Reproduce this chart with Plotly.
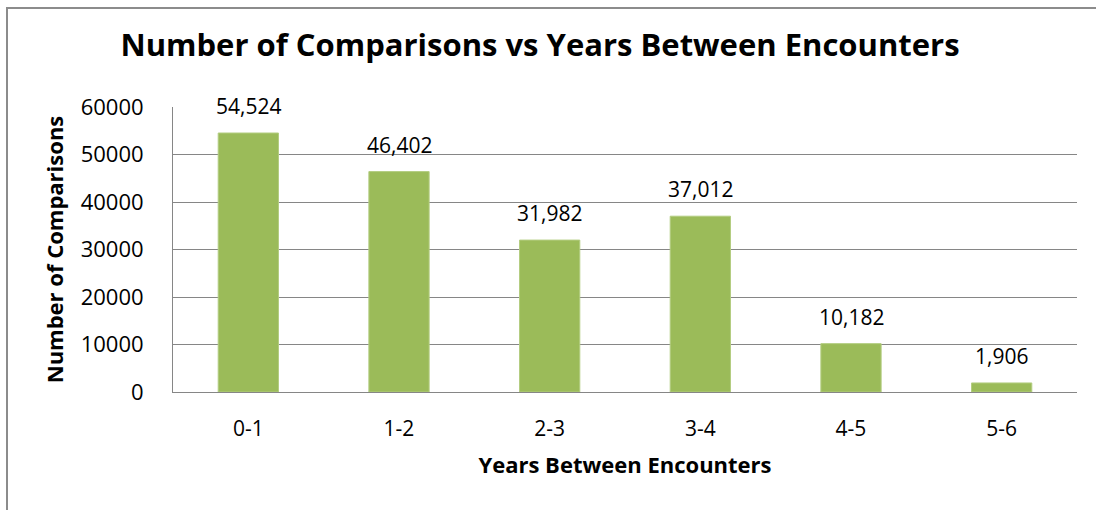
import plotly.graph_objects as go

categories = ["0-1", "1-2", "2-3", "3-4", "4-5", "5-6"]
comparisons = [54524, 46402, 31982, 37012, 10182, 1906]
y_ticks = [0, 10000, 20000, 30000, 40000, 50000, 60000]

FONT = "Open Sans"
GRID = "#868686"

fig = go.Figure(
    go.Bar(
        x=categories,
        y=comparisons,
        marker=dict(color="#9BBB59", line=dict(color="#B3CD80", width=1)),
        width=0.4,
        hoverinfo="x+y",
    )
)

for c, v in zip(categories, comparisons):
    fig.add_annotation(
        x=c, y=v, text=f"{v:,}", showarrow=False,
        yanchor="middle", yshift=27,
        font=dict(family=FONT, size=21, color="#000000"),
    )

fig.update_layout(
    width=1096, height=510,
    margin=dict(l=173, r=19, t=107, b=118),
    paper_bgcolor="white", plot_bgcolor="white",
    showlegend=False,
    title=dict(
        text="<b>Number of Comparisons vs Years Between Encounters</b>",
        x=540 / 1096, xanchor="center", y=1 - 45 / 510, yanchor="middle",
        font=dict(family=FONT, size=31, color="#000000"),
    ),
    font=dict(family=FONT, color="#000000"),
)

fig.update_xaxes(
    showgrid=False, showline=True, linecolor=GRID, linewidth=1,
    ticks="", tickfont=dict(family=FONT, size=21, color="#000000"),
    ticklabelstandoff=18,
    title=dict(text="<b>Years Between Encounters</b>",
               font=dict(family=FONT, size=22, color="#000000"), standoff=16),
)
fig.update_yaxes(
    range=[0, 60000], tickvals=y_ticks, ticktext=[str(t) for t in y_ticks],
    showgrid=True, gridcolor=GRID, gridwidth=1,
    showline=True, linecolor=GRID, linewidth=1, zeroline=False,
    ticks="", tickfont=dict(family=FONT, size=22, color="#000000"),
    ticklabelstandoff=24,
    title=dict(text="<b>Number of Comparisons</b>",
               font=dict(family=FONT, size=22, color="#000000"), standoff=10),
)

# outer chart border (Excel chart area frame), extending past the right/bottom edges
fig.add_shape(
    type="rect", xref="paper", yref="paper",
    x0=(7 - 173) / 904, x1=1.2, y0=-0.6, y1=1 + (107 - 8) / 285,
    line=dict(color="#8C8C8C", width=2), fillcolor="rgba(0,0,0,0)", layer="below",
)

fig.write_html("out.html")
